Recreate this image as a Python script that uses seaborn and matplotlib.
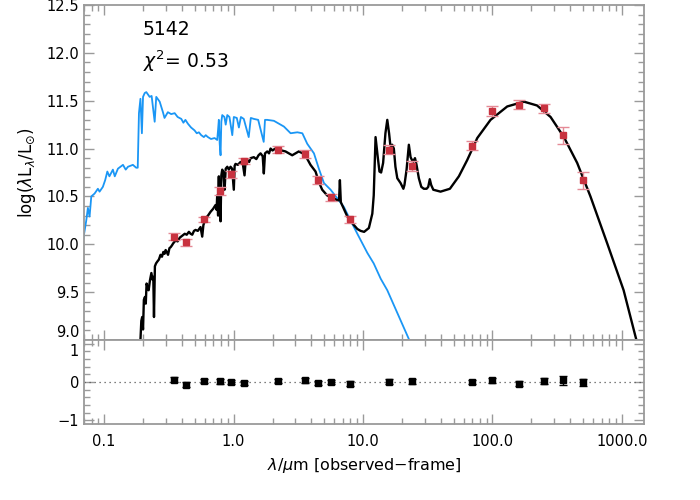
import numpy as np
import pandas as pd
import matplotlib
matplotlib.use('Agg')
import matplotlib.pyplot as plt
import seaborn as sns
from matplotlib.ticker import MultipleLocator, LogLocator, NullFormatter, FixedFormatter, FixedLocator

sns.set_style('ticks')
plt.rcParams['font.family'] = ['DejaVu Sans']
plt.rcParams['axes.unicode_minus'] = True
plt.rcParams['text.color'] = 'black'
plt.rcParams['axes.labelcolor'] = 'black'

# observed photometry (red points) and fit residuals
phot_wave = [0.35, 0.43, 0.59, 0.78, 0.95, 1.21, 2.2, 3.55, 4.5, 5.7, 7.9,
             16.0, 24.0, 70.0, 100.0, 160.0, 250.0, 350.0, 500.0]
phot_logl = [10.08, 10.02, 10.26, 10.56, 10.73, 10.87, 10.99, 10.94, 10.67, 10.49, 10.26,
             10.99, 10.82, 11.03, 11.39, 11.46, 11.42, 11.14, 10.67]
phot_err = [0.04, 0.04, 0.03, 0.04, 0.04, 0.03, 0.04, 0.04, 0.04, 0.04, 0.04,
            0.05, 0.05, 0.045, 0.05, 0.045, 0.045, 0.09, 0.09]
resid = [0.06, -0.07, 0.03, 0.02, 0.0, -0.02, 0.03, 0.04, -0.03, 0.0, -0.04,
         0.01, 0.02, 0.0, 0.04, -0.04, 0.03, 0.04, -0.01]
resid_err = [0.06, 0.06, 0.05, 0.06, 0.06, 0.05, 0.06, 0.06, 0.06, 0.06, 0.06,
             0.07, 0.07, 0.06, 0.07, 0.06, 0.07, 0.11, 0.10]

# total best-fit model (black)
model_wave = [0.188, 0.191, 0.194, 0.197, 0.200, 0.203, 0.207, 0.210, 0.213, 0.217, 0.221,
              0.226, 0.232, 0.237, 0.240, 0.243, 0.247, 0.252, 0.258, 0.265, 0.273, 0.280,
              0.287, 0.293, 0.299, 0.305, 0.312, 0.320, 0.327, 0.335, 0.342, 0.357, 0.370,
              0.385, 0.402, 0.420, 0.435, 0.452, 0.466, 0.480, 0.495, 0.509, 0.530, 0.556,
              0.573, 0.585, 0.608, 0.635, 0.665, 0.695, 0.726, 0.740, 0.748, 0.760, 0.770,
              0.775, 0.780, 0.787, 0.794, 0.805, 0.818, 0.835, 0.853, 0.870, 0.895, 0.920,
              0.948, 0.975, 1.005, 1.020, 1.036, 1.080, 1.133, 1.180, 1.216, 1.240, 1.276,
              1.320, 1.354, 1.435, 1.500, 1.560, 1.617, 1.680, 1.714, 1.750, 1.821, 1.880,
              1.932, 2.00, 2.10, 2.20, 2.52, 2.84, 3.19, 3.55, 3.93, 4.30, 4.56, 4.84, 5.29,
              5.96, 6.33, 6.53, 6.63, 6.74, 7.57, 8.27, 9.04, 9.59, 10.2, 11.1, 11.8, 12.1,
              12.5, 13.0, 13.4, 13.8, 14.3, 14.9, 15.4, 15.9, 16.3, 16.8, 17.3, 17.8, 18.4,
              19.5, 20.5, 20.9, 21.7, 22.6, 23.3, 24.3, 25.2, 25.9, 27.0, 28.2, 29.5, 31.0,
              31.9, 32.8, 33.6, 34.9, 39.7, 46.9, 55.0, 63.8, 76.3, 96.6, 130.0, 175.0,
              221.0, 281.0, 356.0, 451.0, 571.0, 769.0, 1030.0, 1270.0, 1390.0]
model_logl = [8.95, 9.00, 9.20, 9.24, 9.11, 9.42, 9.45, 9.38, 9.59, 9.55, 9.52,
              9.62, 9.70, 9.63, 9.66, 9.24, 9.77, 9.80, 9.82, 9.84, 9.89, 9.87,
              9.92, 9.90, 9.94, 9.92, 9.89, 9.96, 9.97, 9.99, 10.01, 10.04, 10.03,
              10.07, 10.09, 10.11, 10.10, 10.13, 10.11, 10.10, 10.14, 10.15, 10.14, 10.18,
              10.08, 10.20, 10.27, 10.30, 10.34, 10.37, 10.41, 10.36, 10.51, 10.30, 10.71,
              10.40, 10.31, 10.65, 10.24, 10.72, 10.78, 10.75, 10.57, 10.79, 10.81, 10.78,
              10.81, 10.79, 10.57, 10.82, 10.84, 10.83, 10.86, 10.84, 10.72, 10.87, 10.88,
              10.86, 10.90, 10.91, 10.89, 10.93, 10.95, 10.92, 10.74, 10.95, 10.97, 10.95,
              11.00, 10.98, 11.00, 10.99, 10.97, 10.93, 10.97, 10.94, 10.83, 10.76, 10.65, 10.57, 10.51,
              10.48, 10.46, 10.46, 10.67, 10.44, 10.29, 10.22, 10.16, 10.14, 10.13, 10.17, 10.32, 10.51,
              11.12, 10.91, 10.76, 10.75, 10.85, 11.16, 11.30, 11.16, 11.02, 11.04, 11.00, 10.81, 10.69,
              10.64, 10.58, 10.62, 10.78, 11.04, 10.91, 10.86, 10.90, 10.83, 10.69, 10.60, 10.58, 10.58,
              10.60, 10.68, 10.62, 10.57, 10.55, 10.58, 10.71, 10.88, 11.11, 11.30, 11.44, 11.49,
              11.45, 11.33, 11.12, 10.85, 10.50, 10.01, 9.52, 9.04, 8.84]

# unattenuated stellar template (blue)
star_wave = [0.069, 0.0729, 0.0750, 0.0773, 0.0797, 0.0845, 0.0896, 0.0923, 0.0979, 0.102,
             0.106, 0.110, 0.117, 0.121, 0.128, 0.140, 0.147, 0.153, 0.167, 0.177, 0.182,
             0.186, 0.191, 0.196, 0.200, 0.206, 0.212, 0.225, 0.233, 0.246, 0.253, 0.269,
             0.285, 0.293, 0.311, 0.330, 0.351, 0.370, 0.395, 0.410, 0.425, 0.444, 0.470,
             0.500, 0.520, 0.540, 0.563, 0.590, 0.610, 0.634, 0.670, 0.714, 0.748, 0.760,
             0.770, 0.782, 0.794, 0.805, 0.818, 0.850, 0.870, 0.895, 0.930, 0.978, 1.005,
             1.06, 1.10, 1.14, 1.20, 1.31, 1.36, 1.435, 1.55, 1.71, 1.75, 1.821, 2.05,
             2.45, 2.76, 3.11, 3.40, 3.71, 4.18, 4.56, 4.99, 5.62, 6.33, 7.12, 8.01, 9.04,
             10.8, 12.1, 13.7, 15.4, 22.6, 24.1]
star_logl = [10.05, 10.25, 10.38, 10.29, 10.50, 10.53, 10.58, 10.55, 10.60, 10.67,
             10.76, 10.71, 10.78, 10.71, 10.79, 10.83, 10.78, 10.81, 10.83, 10.80, 10.80,
             11.37, 11.52, 11.16, 11.54, 11.58, 11.59, 11.54, 11.55, 11.28, 11.54, 11.49,
             11.38, 11.32, 11.38, 11.36, 11.37, 11.33, 11.31, 11.27, 11.30, 11.26, 11.22,
             11.19, 11.16, 11.17, 11.14, 11.12, 11.14, 11.12, 11.10, 11.11, 11.09, 11.20,
             11.30, 11.05, 10.93, 11.28, 11.35, 11.33, 11.25, 11.35, 11.33, 11.14, 11.33,
             11.32, 11.22, 11.33, 11.31, 11.12, 11.32, 11.31, 11.30, 11.07, 11.30, 11.30, 11.29,
             11.23, 11.16, 11.17, 11.16, 11.05, 10.95, 10.79, 10.64, 10.57, 10.48, 10.39, 10.25, 10.11,
             9.91, 9.80, 9.64, 9.52, 9.01, 8.90]

axis_gray = '#9a9a9a'
blue = '#1a96f5'
red = '#c8323f'

fig = plt.figure(figsize=(7, 5), dpi=100)
ax = fig.add_axes([0.12, 0.32, 0.80, 0.67])
axr = fig.add_axes([0.12, 0.152, 0.80, 0.168], sharex=ax)

star_df = pd.DataFrame({'wave': star_wave, 'logl': star_logl})
model_df = pd.DataFrame({'wave': model_wave, 'logl': model_logl})
sns.lineplot(data=star_df, x='wave', y='logl', sort=False, estimator=None,
             color=blue, lw=1.3, ax=ax)
sns.lineplot(data=model_df, x='wave', y='logl', sort=False, estimator=None,
             color='black', lw=1.7, ax=ax)
ax.errorbar(phot_wave, phot_logl, yerr=phot_err, fmt='s', ms=4, color=red,
            ecolor='#e58a96', elinewidth=1, capsize=4, capthick=1, zorder=5)

axr.axhline(0, color='#555555', lw=0.9, ls=(0, (1, 3)))
axr.errorbar(phot_wave, resid, yerr=resid_err, fmt='s', ms=4, color='black',
             ecolor='black', elinewidth=1, capsize=3, capthick=1, zorder=5)

for a in (ax, axr):
    a.set_xscale('log')
    a.set_xlim(0.07, 1480)
    for s in a.spines.values():
        s.set_color(axis_gray)
        s.set_linewidth(1.3)
    a.tick_params(which='both', direction='in', top=True, right=True,
                  color=axis_gray, labelsize=10.5, labelcolor='black')
    a.tick_params(which='major', length=7, width=1)
    a.tick_params(which='minor', length=4, width=1)
    a.xaxis.set_major_locator(LogLocator(base=10, numticks=10))
    a.xaxis.set_minor_locator(LogLocator(base=10, subs=np.arange(2, 10), numticks=20))
    a.xaxis.set_minor_formatter(NullFormatter())
    a.set_ylabel('')
    a.set_xlabel('')

ax.set_ylim(9.0, 12.5)
ax.yaxis.set_major_locator(FixedLocator([9.0, 9.5, 10.0, 10.5, 11.0, 11.5, 12.0, 12.5]))
ax.yaxis.set_minor_locator(MultipleLocator(0.1))
ax.yaxis.set_major_formatter(plt.FuncFormatter(lambda v, p: f'{v:.1f}'))
ax.tick_params(labelbottom=False)

axr.set_ylim(-1.1, 1.1)
axr.yaxis.set_major_locator(FixedLocator([-1, 0, 1]))
axr.yaxis.set_major_formatter(FixedFormatter(['\u22121', '0', '1']))
axr.yaxis.set_minor_locator(MultipleLocator(0.2))
axr.xaxis.set_major_formatter(plt.FuncFormatter(lambda v, p: f'{v:.1f}'))
axr.tick_params(axis='x', pad=7)

# keep the "9.0" and "1" labels at the panel join apart
ax.yaxis.get_major_ticks()[0].label1.set_verticalalignment('bottom')
axr.yaxis.get_major_ticks()[2].label1.set_verticalalignment('top')

ax.set_ylabel(r'log($\lambda$L$_{\lambda}$/L$_{\odot}$)', fontsize=12, labelpad=6)
axr.set_xlabel(r'$\lambda/\mu$m [observed$-$frame]', fontsize=11.5, labelpad=5)

ax.text(0.105, 0.955, '5142', transform=ax.transAxes, fontsize=13.5, va='top')
ax.text(0.105, 0.87, r'$\chi^2$= 0.53', transform=ax.transAxes, fontsize=13.5, va='top')

fig.savefig('out.png', dpi=100)
